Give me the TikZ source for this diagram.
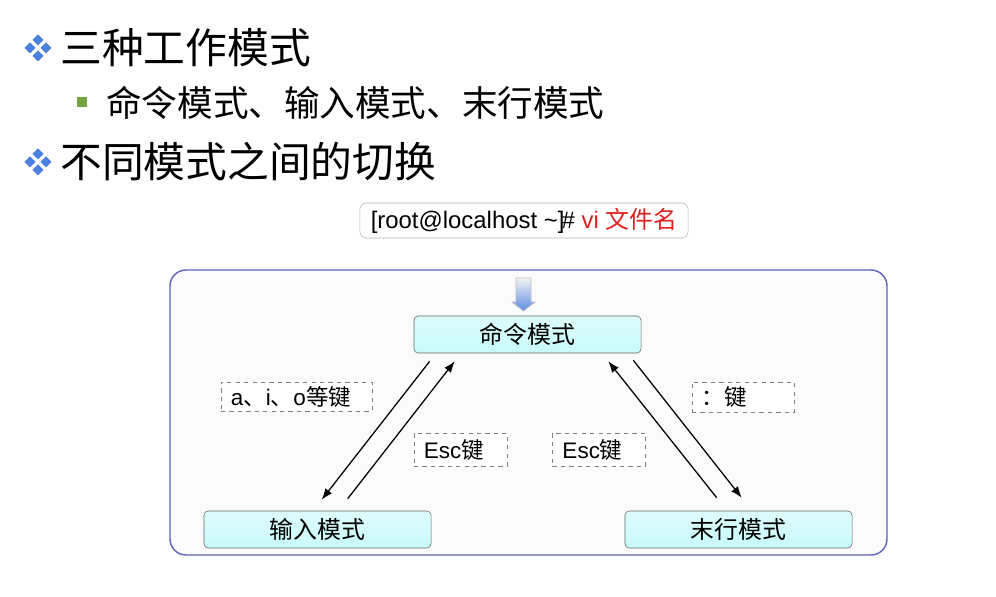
\documentclass[tikz,border=0pt]{standalone}
\usepackage{fontspec}
\setmainfont{Liberation Sans}
\newfontfamily\cjk{Noto Sans CJK SC}
\usetikzlibrary{arrows.meta,calc}
\definecolor{bulletblue}{RGB}{74,128,224}
\definecolor{bulletgreen}{RGB}{112,164,64}
\definecolor{modefill}{RGB}{200,250,250}
\definecolor{framecol}{RGB}{96,96,190}
\definecolor{promptred}{RGB}{224,32,32}

\begin{document}
\begin{tikzpicture}[x=0.025cm,y=-0.025cm]
            \tikzstyle{modebox}=[draw=gray!80!black, rounded corners=3pt, top color=modefill!60, bottom color=modefill, minimum width=5.675cm, minimum height=0.925cm, inner sep=0pt, font=\fontsize{17}{17}\cjk]
            \tikzstyle{keybox}=[draw=gray, dashed, fill=white, inner xsep=0.25cm, inner ysep=0pt, align=left, font=\fontsize{16}{16}\selectfont]
            \tikzstyle{move}=[black, line width=0.9pt, -{Latex[length=8pt,width=6pt]}]
            \useasboundingbox (0,0) rectangle (996,597);
            \fill [white] (0,0) rectangle (996,597);
            \foreach \y in {48,162} {
                \foreach \dx/\dy in {0/-8,-8/0,8/0,0/8}
                    \fill [bulletblue] (38+\dx,\y+\dy-5.5) -- (38+\dx+5.5,\y+\dy) -- (38+\dx,\y+\dy+5.5) -- (38+\dx-5.5,\y+\dy) -- cycle;
            }
            \fill [bulletgreen] (77,97) rectangle (87,107);
            \node [anchor=west, inner sep=0pt, font=\fontsize{29.7}{30}\cjk] (title1) at (60,48) {三种工作模式};
            \node [anchor=west, inner sep=0pt, font=\fontsize{25.3}{26}\cjk] (item1) at (106,103) {命令模式、输入模式、末行模式};
            \node [anchor=west, inner sep=0pt, font=\fontsize{29.7}{30}\cjk] (title2) at (60,162) {不同模式之间的切换};
            \node [draw=gray!60, fill=white, rounded corners=4pt, minimum width=8.2cm, minimum height=0.875cm, inner sep=0pt, font=\fontsize{17}{17}\selectfont] (prompt) at (524,220.5) {[root@localhost \char`\~]\kern-2pt\# \textcolor{promptred}{vi {\cjk 文件名}}};
            \draw [framecol, line width=1pt, fill=gray!3, rounded corners=0.4cm] (170,270) rectangle (887,555);
            \shade [top color=gray!10, bottom color=bulletblue!90, draw=gray!50] (516,278) -- (531,278) -- (531,302) -- (535,302) -- (523.5,311) -- (512,302) -- (516,302) -- cycle;
            \node [modebox] (cmd) at (527.5,334.5) {命令模式};
            \node [modebox] (input) at (317.5,529.5) {输入模式};
            \node [modebox] (last) at (738.5,529.5) {末行模式};
            \node [keybox, text width=3.275cm, minimum height=0.725cm] (k1) at (296.5,396.5) {a{\cjk 、}i{\cjk 、}o{\cjk 等键}};
            \node [keybox, text width=1.825cm, minimum height=0.825cm] (k2) at (460.5,449.5) {Esc{\cjk 键}};
            \node [keybox, text width=1.825cm, minimum height=0.825cm] (k3) at (599,449.5) {Esc{\cjk 键}};
            \node [keybox, text width=2.05cm, minimum height=0.75cm] (k4) at (743,397) {\cjk ：键};
            \coordinate (a1) at ($(cmd.south west)+(16,8)$);
            \coordinate (b1) at ($(input.north west)+(118,-11)$);
            \coordinate (a2) at ($(input.north west)+(144,-12)$);
            \coordinate (b2) at ($(cmd.south west)+(41,8)$);
            \coordinate (a3) at ($(last.north west)+(92,-13)$);
            \coordinate (b3) at ($(cmd.south east)+(-33,8)$);
            \coordinate (a4) at ($(cmd.south east)+(-8,7)$);
            \coordinate (b4) at ($(last.north west)+(117,-13)$);
            \draw [move] (a1) -- (b1);
            \draw [move] (a2) -- (b2);
            \draw [move] (a3) -- (b3);
            \draw [move] (a4) -- (b4);
        \end{tikzpicture}
\end{document}
